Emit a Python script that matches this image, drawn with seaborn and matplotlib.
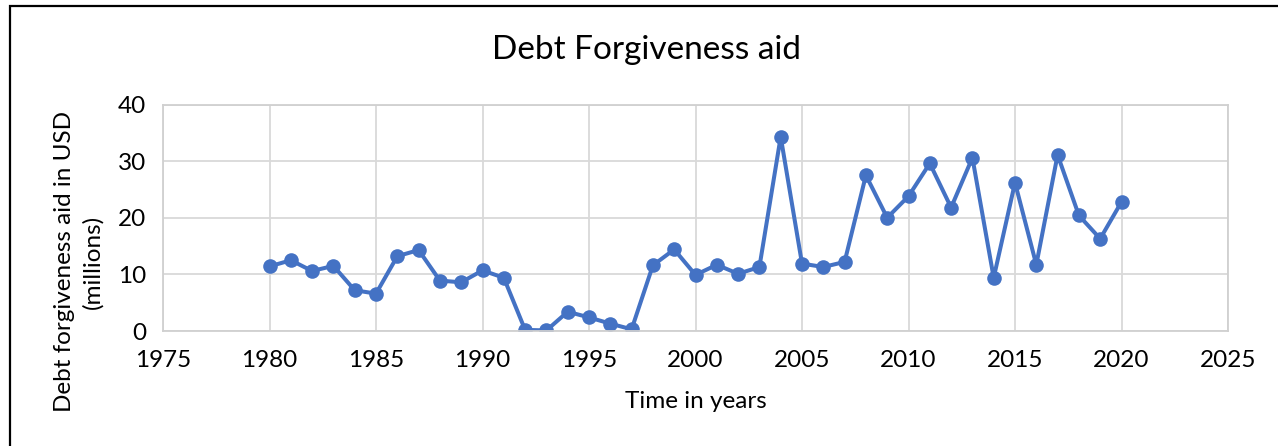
import matplotlib
matplotlib.use("Agg")
import matplotlib.pyplot as plt
import seaborn as sns
import pandas as pd
from matplotlib.patches import Rectangle

years = list(range(1980, 2021))
aid_musd = [11.4, 12.5, 10.6, 11.5, 7.2, 6.6, 13.2, 14.3, 8.9, 8.6, 10.7, 9.4,
            0.2, 0.1, 3.4, 2.4, 1.3, 0.3, 11.6, 14.4, 9.9, 11.7, 10.1, 11.3,
            34.3, 11.9, 11.3, 12.2, 27.5, 20.0, 23.8, 29.6, 21.8, 30.6, 9.4,
            26.2, 11.7, 31.1, 20.4, 16.3, 22.8]
x_ticks = [1975, 1980, 1985, 1990, 1995, 2000, 2005, 2010, 2015, 2020, 2025]
y_ticks = [0, 10, 20, 30, 40]

df = pd.DataFrame({"year": years, "aid": aid_musd})

sns.set_theme(style="white")
plt.rcParams["font.family"] = ["Lato", "DejaVu Sans"]

W, H = 1278, 446
fig = plt.figure(figsize=(W / 100, H / 100), dpi=100)
ax = fig.add_axes([163 / W, 1 - 331 / H, (1228 - 163) / W, (331 - 104.5) / H])

blue = "#4472C4"
sns.lineplot(data=df, x="year", y="aid", ax=ax, color=blue, linewidth=2.9,
             marker="o", markersize=10.5, markeredgewidth=0, markeredgecolor=blue)

ax.set_xlim(1975, 2025)
ax.set_ylim(0, 40)
ax.set_xticks(x_ticks)
ax.set_yticks(y_ticks)
ax.set_xticklabels([str(t) for t in x_ticks], fontsize=17.5, color="#000000")
ax.set_yticklabels([str(t) for t in y_ticks], fontsize=17.5, color="#000000")
ax.tick_params(axis="x", length=0, pad=14)
ax.tick_params(axis="y", length=0, pad=12)
ax.grid(True, color="#d9d9d9", linewidth=1.3)
ax.set_axisbelow(True)
for side in ["left", "right", "top", "bottom"]:
    ax.spines[side].set_visible(True)
    ax.spines[side].set_color("#d0d0d0")
    ax.spines[side].set_linewidth(1.3)

ax.set_xlabel("Time in years", fontsize=17.5, color="#000000")
ax.xaxis.set_label_coords(0.5, (331 - 402) / 226.5)
ax.xaxis.label.set_verticalalignment("center")

ax.set_ylabel("Debt forgiveness aid in USD\n(millions)", fontsize=17.5,
              color="#000000", linespacing=1.4)
ax.yaxis.set_label_coords((79 - 163) / 1065, (331 - 262) / 226.5)
ax.yaxis.label.set_verticalalignment("center")

fig.text(646 / W, 1 - 50 / H, "Debt Forgiveness aid", fontsize=24,
         ha="center", va="center", color="#000000")

# outer frame around the chart, open to the right and bottom edges
fig.patches.append(Rectangle((10 / W, -0.05), 1.1, 1 - 6 / H + 0.05,
                             transform=fig.transFigure, fill=False,
                             edgecolor="#000000", linewidth=1.6))

fig.savefig("out.png", dpi=100)
